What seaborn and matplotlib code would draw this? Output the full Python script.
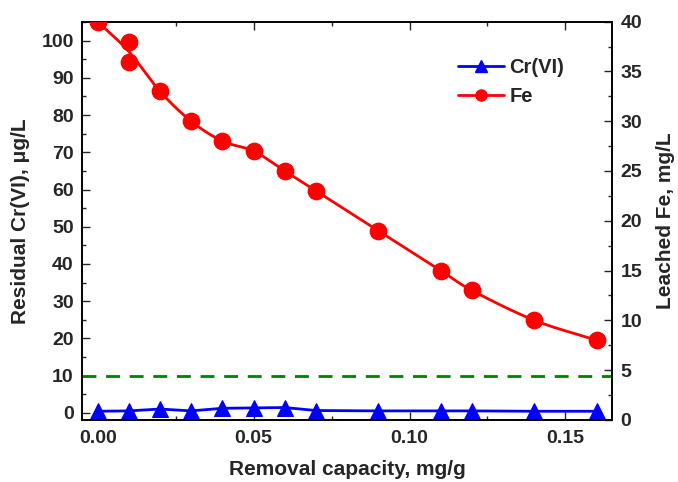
import matplotlib
matplotlib.use('Agg')
import matplotlib.pyplot as plt
import numpy as np
import pandas as pd
import seaborn as sns
from matplotlib.lines import Line2D
from matplotlib.ticker import MultipleLocator

cr_capacity = [0.00, 0.01, 0.02, 0.03, 0.04, 0.05, 0.06, 0.07, 0.09, 0.11, 0.12, 0.14, 0.16]
cr_residual = [0.4, 0.5, 1.0, 0.5, 1.2, 1.3, 1.4, 0.6, 0.5, 0.5, 0.5, 0.4, 0.4]

fe_capacity = [0.00, 0.01, 0.01, 0.02, 0.03, 0.04, 0.05, 0.06, 0.07, 0.09, 0.11, 0.12, 0.14, 0.16]
fe_leached = [40, 38, 36, 33, 30, 28, 27, 25, 23, 19, 15, 13, 10, 8]

limit_cr = 10

cr = pd.DataFrame({'x': cr_capacity, 'y': cr_residual})
fe = pd.DataFrame({'x': fe_capacity, 'y': fe_leached})


def smooth_curve(x, y, n=20):
    # Catmull-Rom spline through the points (duplicates averaged)
    x = np.asarray(x, float)
    y = np.asarray(y, float)
    ux = np.unique(x)
    uy = np.array([y[x == v].mean() for v in ux])
    px = np.concatenate([[2 * ux[0] - ux[1]], ux, [2 * ux[-1] - ux[-2]]])
    py = np.concatenate([[2 * uy[0] - uy[1]], uy, [2 * uy[-1] - uy[-2]]])
    t = np.linspace(0, 1, n)[:, None]
    out_x, out_y = [], []
    for i in range(1, len(px) - 2):
        for p, out in ((px, out_x), (py, out_y)):
            p0, p1, p2, p3 = p[i - 1], p[i], p[i + 1], p[i + 2]
            seg = 0.5 * ((2 * p1) + (-p0 + p2) * t + (2 * p0 - 5 * p1 + 4 * p2 - p3) * t ** 2
                         + (-p0 + 3 * p1 - 3 * p2 + p3) * t ** 3)
            out.append(seg.ravel())
    return np.concatenate(out_x), np.concatenate(out_y)


sns.set_style('ticks')
plt.rcParams['font.family'] = ['Liberation Sans', 'DejaVu Sans']
plt.rcParams['font.weight'] = 'bold'

fig, ax = plt.subplots(figsize=(6.78, 4.82), dpi=100)
fig.subplots_adjust(left=0.121, right=0.903, top=0.955, bottom=0.129)
ax2 = ax.twinx()

ax.axhline(limit_cr, color='#008000', lw=2, ls=(0, (5, 3.5)), zorder=1)
sns.lineplot(data=cr, x='x', y='y', ax=ax, color='#0000ff', lw=2,
             marker='^', markersize=11, markeredgecolor='#0000ff', zorder=3)

sx, sy = smooth_curve(fe['x'], fe['y'])
ax2.plot(sx, sy, color='#ff0000', lw=2, zorder=2)
sns.scatterplot(data=fe, x='x', y='y', ax=ax2, color='#ff0000', s=140,
                edgecolor='#ff0000', zorder=3)
for coll in ax2.collections:
    coll.set_clip_on(True)
    coll.set_clip_box(ax2.bbox)

ax.set_xlim(-0.005, 0.165)
ax.set_ylim(-1.9, 105.1)
ax2.set_ylim(0, 40)

ax.xaxis.set_major_locator(MultipleLocator(0.05))
ax.xaxis.set_minor_locator(MultipleLocator(0.025))
ax.yaxis.set_major_locator(MultipleLocator(10))
ax.yaxis.set_minor_locator(MultipleLocator(5))
ax2.yaxis.set_major_locator(MultipleLocator(5))
ax2.yaxis.set_minor_locator(MultipleLocator(2.5))
ax.xaxis.set_major_formatter(plt.FuncFormatter(lambda v, p: f'{v:.2f}'))

ax.tick_params(axis='x', which='both', direction='in', top=True, labelsize=14, pad=7)
ax.tick_params(axis='y', which='both', direction='in', right=False, labelsize=14, pad=6)
ax2.tick_params(axis='y', which='both', direction='in', labelsize=14, pad=6)
for a in (ax, ax2):
    a.tick_params(which='major', length=6, width=1)
    a.tick_params(which='minor', length=3, width=1)
    for s in a.spines.values():
        s.set_linewidth(1.2)
        s.set_color('black')

ax.set_xlabel('Removal capacity, mg/g', fontsize=15, fontweight='bold', labelpad=10)
ax.set_ylabel('Residual Cr(VI), μg/L', fontsize=15, fontweight='bold', labelpad=8)
ax2.set_ylabel('Leached Fe, mg/L', fontsize=15, fontweight='bold', labelpad=10)

handles = [Line2D([], [], color='#0000ff', lw=2, marker='^', markersize=9),
           Line2D([], [], color='#ff0000', lw=2, marker='o', markersize=8)]
ax2.legend(handles, ['Cr(VI)', 'Fe'], loc='upper right', bbox_to_anchor=(0.944, 0.955),
           frameon=False, fontsize=14.5, handlelength=2.25, handletextpad=0.3,
           labelspacing=0.5)

fig.savefig('out.png', dpi=100)
